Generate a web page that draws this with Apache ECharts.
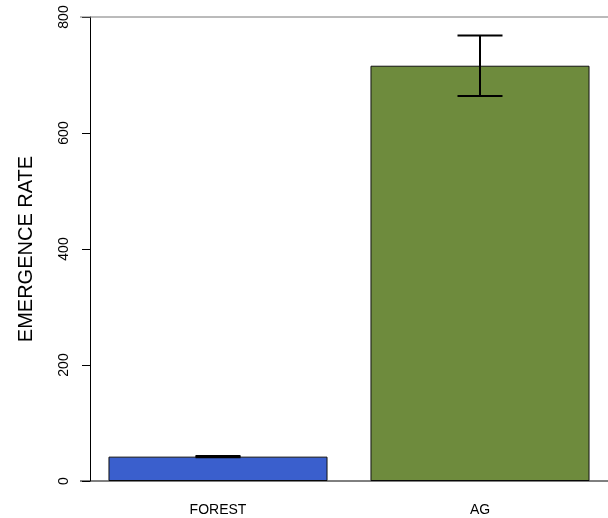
<!DOCTYPE html>
<html>
<head>
<meta charset="utf-8">
<script src="https://cdn.jsdelivr.net/npm/echarts@6/dist/echarts.min.js"></script>
<style>html,body{margin:0;padding:0;background:#fff}#c{width:608px;height:518px}</style>
</head>
<body>
<div id="c"></div>
<script>
var categories = ['FOREST', 'AG'];
var means = [42, 716];
var errLow = [41, 664];
var errHigh = [43, 768];
var barColors = ['#3A5FCD', '#6E8B3D'];
var yTicks = [0, 200, 400, 600, 800];

var chart = echarts.init(document.getElementById('c'), null, {renderer: 'canvas'});
var font = 'Liberation Sans, Arial, Helvetica, sans-serif';
chart.setOption({
  animation: false,
  grid: {left: 87, width: 524, top: 17, bottom: 37, containLabel: false, outerBoundsMode: 'none'},
  xAxis: [{
    type: 'category', data: categories, position: 'bottom',
    axisLine: {show: false},
    axisTick: {alignWithLabel: true, length: 9, lineStyle: {color: '#444'}},
    axisLabel: {color: '#000', fontSize: 14, fontFamily: font, margin: 22}
  }],
  yAxis: {
    type: 'value', min: yTicks[0], max: yTicks[yTicks.length - 1], interval: 200,
    offset: -3,
    name: 'EMERGENCE RATE', nameLocation: 'middle', nameGap: 54,
    nameTextStyle: {fontSize: 20, color: '#000', fontFamily: font},
    axisLine: {show: true, lineStyle: {color: '#000'}},
    axisTick: {show: true, length: 8, lineStyle: {color: '#000'}},
    axisLabel: {rotate: 90, color: '#000', fontSize: 14, fontFamily: font, margin: 19},
    splitLine: {show: false}
  },
  series: [{
    type: 'bar', barWidth: '83.6%',
    data: means.map(function (v, i) {
      return {value: v, itemStyle: {color: barColors[i], borderColor: '#111', borderWidth: 1}};
    })
  }, {
    type: 'custom',
    data: categories.map(function (c, i) { return [i, errLow[i], errHigh[i]]; }),
    renderItem: function (params, api) {
      var x = api.value(0);
      var lo = api.coord([x, api.value(1)]);
      var hi = api.coord([x, api.value(2)]);
      var hw = 22.5;
      var st = {stroke: '#000', lineWidth: 2};
      return {type: 'group', children: [
        {type: 'line', shape: {x1: lo[0], y1: lo[1], x2: hi[0], y2: hi[1]}, style: st},
        {type: 'line', shape: {x1: lo[0] - hw, y1: lo[1], x2: lo[0] + hw, y2: lo[1]}, style: st},
        {type: 'line', shape: {x1: hi[0] - hw, y1: hi[1], x2: hi[0] + hw, y2: hi[1]}, style: st}
      ]};
    },
    z: 10
  }]
});
// horizontal frame lines at the y-axis extremes, positioned through the axis scale
var yBottom = chart.convertToPixel({yAxisIndex: 0}, yTicks[0]);
var yTop = chart.convertToPixel({yAxisIndex: 0}, yTicks[yTicks.length - 1]);
chart.setOption({
  graphic: [
    {type: 'line', shape: {x1: 80, y1: yBottom, x2: 608, y2: yBottom}, style: {stroke: '#000', lineWidth: 1}, z: 20},
    {type: 'line', shape: {x1: 80, y1: yTop, x2: 608, y2: yTop}, style: {stroke: '#777', lineWidth: 1}, z: 20}
  ]
});
</script>
</body>
</html>
